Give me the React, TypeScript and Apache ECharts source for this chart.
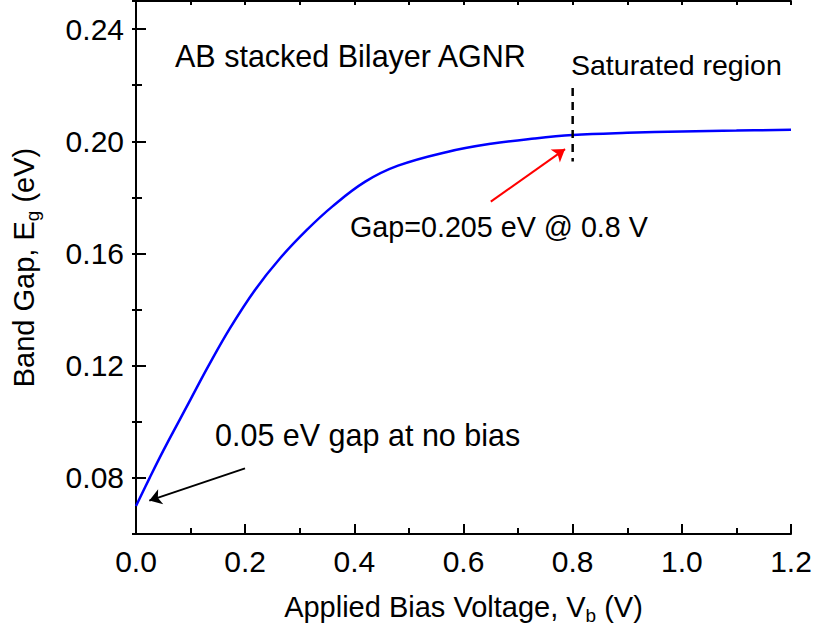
import React, { useEffect, useRef } from "react";
import * as echarts from "echarts";

const biasV = [0, 0.025, 0.05, 0.078, 0.1, 0.133, 0.172, 0.218, 0.264, 0.313, 0.36, 0.42, 0.48, 0.57, 0.65, 0.73, 0.8, 0.9, 1.0, 1.1, 1.2];
const gapE = [0.07, 0.08, 0.0897, 0.1, 0.108, 0.12, 0.1333, 0.147, 0.1583, 0.1684, 0.1768, 0.1856, 0.1913, 0.1962, 0.1991, 0.2010, 0.2022, 0.2030, 0.2035, 0.2038, 0.2041];

const yMajorTicks = [0.08, 0.12, 0.16, 0.2, 0.24];
const satLine = [[0.8, 0.219], [0.8, 0.1928]];
const redArrow = [[0.65, 0.1785], [0.786, 0.1972]];
const blackArrow = [[0.1997, 0.0834], [0.0244, 0.0719]];

const FONT = "'Liberation Sans', Arial, sans-serif";

export default function App() {
  const ref = useRef<HTMLDivElement>(null);
  useEffect(() => {
    document.body.style.margin = "0";
    const chart = echarts.init(ref.current!, null, { renderer: "svg" });
    const axisLine = { show: true, lineStyle: { color: "#000", width: 2 } };
    const option: any = {
      animation: false,
      backgroundColor: "#fff",
      textStyle: { fontFamily: FONT },
      grid: { left: 136, right: 26, top: 1, bottom: 102 },
      xAxis: [
        {
          type: "value", position: "bottom", min: 0, max: 1.2, interval: 0.2,
          axisLine, splitLine: { show: false },
          axisTick: { inside: true, length: 10, lineStyle: { color: "#000", width: 2 } },
          minorTick: { show: true, splitNumber: 2, length: 6, lineStyle: { color: "#000", width: 2 } },
          axisLabel: { color: "#000", fontSize: 30, fontFamily: FONT, margin: 12, formatter: (v: number) => v.toFixed(1) },
          name: "Applied Bias Voltage, V{sub|b} (V)",
          nameLocation: "middle", nameGap: 54,
          nameTextStyle: { color: "#000", fontSize: 29, fontFamily: FONT, rich: { sub: { fontSize: 19, fontFamily: FONT, color: "#000", padding: [18, 0, 0, 0] } } },
        },
        {
          type: "value", position: "top", min: 0, max: 1.2, interval: 0.2,
          axisLine, splitLine: { show: false }, axisLabel: { show: false },
          axisTick: { inside: true, length: 4, lineStyle: { color: "#000", width: 2 } },
          minorTick: { show: true, splitNumber: 2, length: 4, lineStyle: { color: "#000", width: 2 } },
        },
      ],
      yAxis: [
        {
          type: "value", position: "left", min: 0.06, max: 0.25,
          axisLine, splitLine: { show: false },
          axisTick: { inside: true, length: 10, customValues: yMajorTicks, lineStyle: { color: "#000", width: 2 } },
          axisLabel: { color: "#000", fontSize: 30, fontFamily: FONT, margin: 12, customValues: yMajorTicks, formatter: (v: number) => v.toFixed(2) },
          name: "Band Gap, E{sub|g} (eV)",
          nameLocation: "middle", nameGap: 94,
          nameTextStyle: { color: "#000", fontSize: 29, fontFamily: FONT, rich: { sub: { fontSize: 19, fontFamily: FONT, color: "#000", padding: [18, 0, 0, 0] } } },
        },
        {
          type: "value", position: "right", min: 0.06, max: 0.25, interval: 0.02,
          axisLine, splitLine: { show: false }, axisLabel: { show: false },
          axisTick: { inside: true, length: 4, lineStyle: { color: "#000", width: 2 } },
        },
        {
          type: "value", position: "left", min: 0.06, max: 0.25, interval: 0.02,
          axisLine: { show: false }, splitLine: { show: false }, axisLabel: { show: false },
          axisTick: { inside: true, length: 6, lineStyle: { color: "#000", width: 2 } },
        },
      ],
      series: [
        {
          type: "line", xAxisIndex: 0, yAxisIndex: 0, smooth: 0.4, symbol: "none",
          lineStyle: { color: "#0000ff", width: 2.5 },
          data: biasV.map((v, i) => [v, gapE[i]]),
          z: 3,
        },
        {
          type: "line", xAxisIndex: 0, yAxisIndex: 0, symbol: "none",
          lineStyle: { color: "#000", width: 2.5, type: [8, 6] },
          data: satLine,
          z: 4,
          markLine: {
            silent: true, symbol: ["none", "arrow"], symbolSize: 12,
            label: { show: false },
            data: [
              [{ coord: redArrow[0], lineStyle: { color: "#ff0000", width: 2, type: "solid" }, itemStyle: { color: "#ff0000" } }, { coord: redArrow[1] }],
              [{ coord: blackArrow[0], lineStyle: { color: "#000", width: 2, type: "solid" }, itemStyle: { color: "#000" } }, { coord: blackArrow[1] }],
            ],
          },
        },
      ],
      graphic: [
        { type: "text", left: 175, top: 40, style: { text: "AB stacked Bilayer AGNR", font: `30.5px ${FONT}`, fill: "#000" } },
        { type: "text", left: 571, top: 50, style: { text: "Saturated region", font: `28.5px ${FONT}`, fill: "#000" } },
        { type: "text", left: 350, top: 212, style: { text: "Gap=0.205 eV @ 0.8 V", font: `28.7px ${FONT}`, fill: "#000" } },
        { type: "text", left: 215, top: 419, style: { text: "0.05 eV gap at no bias", font: `30.5px ${FONT}`, fill: "#000" } },
      ],
    };
    chart.setOption(option);
    return () => chart.dispose();
  }, []);
  return <div ref={ref} style={{ position: "fixed", left: 0, top: 0, width: 817, height: 636 }} />;
}
